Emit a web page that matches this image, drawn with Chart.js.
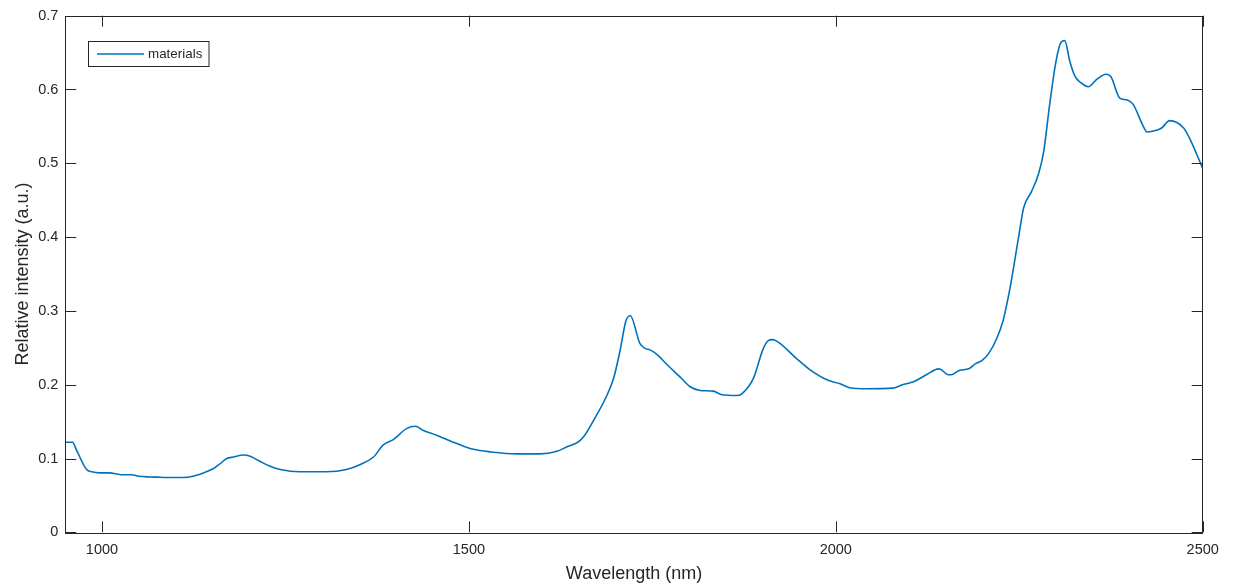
<!DOCTYPE html>
<html>
<head>
<meta charset="utf-8">
<script src="https://cdn.jsdelivr.net/npm/chart.js@4"></script>
<style>
html,body{margin:0;padding:0;background:#fff;}
#wrap{width:1237px;height:587px;position:relative;}
</style>
</head>
<body>
<div id="wrap"><canvas id="c" width="1237" height="587"></canvas></div>
<script>
const wavelength = [950,960,965,979,986,997,1011,1020,1029,1040,1050,1065,1075,1088,1111,1124,1138,1152,1161,1170,1179,1193,1202,1215,1229,1243,1270,1306,1333,1352,1370,1383,1397,1415,1427,1438,1456,1470,1488,1506,1529,1565,1597,1620,1633,1649,1656,1670,1688,1697,1706,1714,1720,1733,1740,1747,1758,1770,1788,1801,1815,1833,1845,1865,1872,1888,1901,1908,1914,1922,1947,1965,1988,2006,2019,2042,2078,2092,2106,2124,2140,2144,2152,2157,2169,2181,2190,2199,2208,2219,2228,2234,2238,2249,2256,2267,2276,2283,2292,2300,2307,2312,2319,2326,2333,2344,2356,2368,2375,2387,2396,2405,2419,2424,2437,2444,2455,2474,2483,2492,2500];
const materials = [0.122,0.122,0.112,0.085,0.082,0.0805,0.0805,0.079,0.078,0.078,0.076,0.075,0.0747,0.0743,0.0743,0.076,0.0805,0.0864,0.093,0.0999,0.102,0.1048,0.103,0.0963,0.0895,0.085,0.082,0.082,0.085,0.092,0.102,0.118,0.1256,0.1405,0.1436,0.138,0.1314,0.1256,0.1185,0.1125,0.109,0.1062,0.1062,0.1098,0.1156,0.1224,0.129,0.1517,0.1854,0.208,0.246,0.2867,0.2935,0.256,0.2493,0.2472,0.2395,0.2273,0.2102,0.1976,0.1922,0.1913,0.1864,0.1854,0.1877,0.2093,0.2485,0.2597,0.2611,0.2574,0.235,0.2201,0.2066,0.2012,0.1958,0.1945,0.1953,0.2003,0.204,0.2138,0.2215,0.2201,0.2138,0.2134,0.2196,0.2215,0.2283,0.2327,0.2418,0.262,0.2867,0.3137,0.334,0.3993,0.4398,0.4623,0.4848,0.514,0.5839,0.6379,0.664,0.6662,0.6379,0.6177,0.61,0.6037,0.614,0.6207,0.6172,0.5883,0.5861,0.5802,0.5501,0.5424,0.5447,0.5478,0.5578,0.5478,0.5322,0.5119,0.493];
const xTicks = [1000,1500,2000,2500];
const yTicks = [0,0.1,0.2,0.3,0.4,0.5,0.6,0.7];
const yTickLabels = ['0','0.1','0.2','0.3','0.4','0.5','0.6','0.7'];
const seriesName = 'materials';

const AX = '#262626';
const FONT = 'Arial, "Liberation Sans", Helvetica, sans-serif';

const boxPlugin = {
  id: 'boxTicks',
  afterDraw(chart) {
    const ctx = chart.ctx, a = chart.chartArea;
    const xs = chart.scales.x, ys = chart.scales.y;
    const L = 11;
    ctx.save();
    ctx.strokeStyle = AX;
    ctx.lineWidth = 1;
    ctx.beginPath();
    xTicks.forEach(v => {
      const px = Math.round(xs.getPixelForValue(v)) + 0.5;
      ctx.moveTo(px, a.bottom); ctx.lineTo(px, a.bottom - L);
      ctx.moveTo(px, a.top); ctx.lineTo(px, a.top + L);
    });
    yTicks.forEach(v => {
      const py = Math.round(ys.getPixelForValue(v)) + 0.5;
      ctx.moveTo(a.left, py); ctx.lineTo(a.left + L, py);
      ctx.moveTo(a.right, py); ctx.lineTo(a.right - L, py);
    });
    ctx.stroke();
    ctx.strokeRect(Math.round(a.left) + 0.5, Math.round(a.top) + 0.5, Math.round(a.right - a.left), Math.round(a.bottom - a.top));
    // legend
    const ds = chart.data.datasets[0];
    const lx = 88.5, ly = 41.5, lw = 120.5, lh = 25;
    ctx.fillStyle = '#fff';
    ctx.fillRect(lx, ly, lw, lh);
    ctx.strokeStyle = AX;
    ctx.lineWidth = 1;
    ctx.strokeRect(lx, ly, lw, lh);
    ctx.strokeStyle = ds.borderColor;
    ctx.lineWidth = ds.borderWidth;
    ctx.beginPath();
    ctx.moveTo(97, 54); ctx.lineTo(144, 54);
    ctx.stroke();
    ctx.fillStyle = AX;
    ctx.font = '13.4px ' + FONT;
    ctx.textBaseline = 'middle';
    ctx.textAlign = 'left';
    ctx.fillText(ds.label, 148, 54.5);
    ctx.restore();
  }
};

new Chart(document.getElementById('c'), {
  type: 'scatter',
  data: {
    datasets: [{
      label: seriesName,
      data: wavelength.map((w, i) => ({x: w, y: materials[i]})),
      showLine: true,
      borderColor: '#0072BD',
      backgroundColor: '#0072BD',
      borderWidth: 1.6,
      pointRadius: 0,
      cubicInterpolationMode: 'monotone',
      fill: false
    }]
  },
  options: {
    responsive: false,
    animation: false,
    devicePixelRatio: 1,
    layout: {padding: {left: 0, top: 14, right: 34.3, bottom: 0}},
    plugins: {legend: {display: false}, tooltip: {enabled: false}},
    scales: {
      x: {
        type: 'linear',
        min: 950, max: 2500,
        grid: {display: false, drawTicks: false},
        border: {display: false},
        afterBuildTicks: s => { s.ticks = xTicks.map(v => ({value: v})); },
        afterFit: s => { s.height = 54.7; },
        ticks: {
          color: AX, font: {family: FONT, size: 14.5}, padding: 9,
          maxRotation: 0, autoSkip: false,
          callback: v => String(v)
        },
        title: {
          display: true, text: 'Wavelength (nm)', color: AX,
          font: {family: FONT, size: 18}, padding: {top: 2, bottom: 2}
        }
      },
      y: {
        type: 'linear',
        min: 0, max: 0.7,
        grid: {display: false, drawTicks: false},
        border: {display: false},
        afterBuildTicks: s => { s.ticks = yTicks.map(v => ({value: v})); },
        afterFit: s => { s.width = 65.3; },
        ticks: {
          color: AX, font: {family: FONT, size: 14.5}, padding: 7,
          autoSkip: false,
          callback: (v) => { const i = yTicks.findIndex(t => Math.abs(t - v) < 1e-9); return i >= 0 ? yTickLabels[i] : ''; }
        },
        title: {
          display: true, text: 'Relative intensity (a.u.)', color: AX,
          font: {family: FONT, size: 18}, padding: {top: 12, bottom: 12}
        }
      }
    }
  },
  plugins: [boxPlugin]
});
</script>
</body>
</html>
